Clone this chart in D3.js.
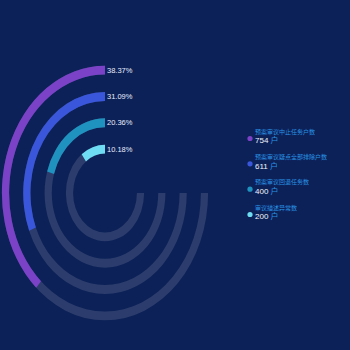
<!DOCTYPE html>
<html><head><meta charset="utf-8">
<script src="https://cdn.jsdelivr.net/npm/d3@7"></script>
<style>html,body{margin:0;padding:0;background:#0c2157;}svg{display:block;}</style>
</head><body>
<svg id="c" width="350" height="350"></svg>
<script>
const categories = ["预案审议中止任务户数", "预案审议疑点全部排除户数", "预案审议回退任务数", "审议描述异常数"];
const values = [754, 611, 400, 200];
const percentLabels = ["38.37%", "31.09%", "20.36%", "10.18%"];
const unit = "户";
const colors = ["#7b42c8", "#3a56da", "#1f92c0", "#6edcf3"];

const svg = d3.select("#c");
svg.append("rect").attr("width",350).attr("height",350).attr("fill","#0c2157");
const total = d3.sum(values);
const cx = 105, cy = 193, sy = 1.235;
const angle = d3.scaleLinear().domain([0,total]).range([0, 2*Math.PI]);
const radius = d3.scalePoint().domain(categories.slice().reverse()).range([35.5, 99.5]);
const halfW = 3.6;
const g = svg.append("g").attr("transform",`translate(${cx},${cy}) scale(1,${sy})`);
const arc = d3.arc();
categories.forEach((c,i)=>{
  const r = radius(c);
  g.append("path").attr("d", arc({innerRadius:r-halfW, outerRadius:r+halfW, startAngle:-1.5*Math.PI, endAngle:0})).attr("fill","#2c3d6d");
  g.append("path").attr("d", arc({innerRadius:r-halfW, outerRadius:r+halfW, startAngle:-angle(values[i]), endAngle:0})).attr("fill",colors[i]);
  svg.append("text").attr("x", cx+2).attr("y", cy - r*sy).attr("dy","0.35em")
    .attr("font-family","Liberation Sans, Arial, sans-serif").attr("font-size",7.5).attr("fill","#e6ecff")
    .text(percentLabels[i]);
});
const leg = svg.append("g");
const ly = d3.scaleLinear().domain([0,3]).range([131.5, 207.5]);
categories.forEach((c,i)=>{
  const y = ly(i);
  leg.append("circle").attr("cx",250).attr("cy",y+7).attr("r",2.6).attr("fill",colors[i]);
  leg.append("text").attr("x",255).attr("y",y).attr("dy","0.35em")
    .attr("font-family","Noto Sans CJK SC, sans-serif").attr("font-size",6).attr("fill","#2a93e6").text(c);
  const t = leg.append("text").attr("x",255).attr("y",y+9).attr("dy","0.35em")
    .attr("font-family","Liberation Sans, Noto Sans CJK SC, sans-serif").attr("font-size",8);
  t.append("tspan").attr("fill","#f0f4ff").text(values[i]+" ");
  t.append("tspan").attr("fill","#2a93e6").text(unit);
});
</script>
</body></html>
